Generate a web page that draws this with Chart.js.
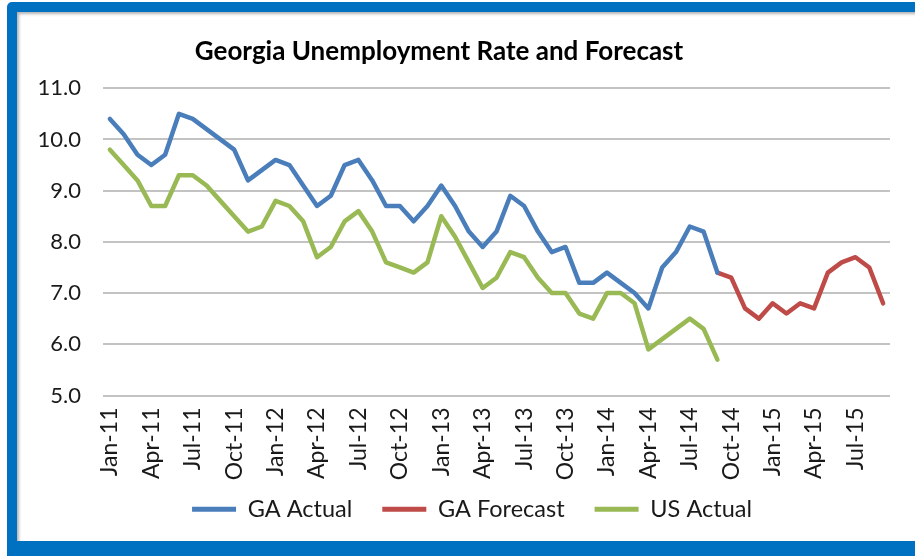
<!DOCTYPE html>
<html>
<head>
<meta charset="utf-8">
<title>Georgia Unemployment Rate and Forecast</title>
<script src="https://cdn.jsdelivr.net/npm/chart.js@4.4.1/dist/chart.umd.min.js"></script>
<style>
  html, body { margin: 0; padding: 0; width: 915px; height: 556px; overflow: hidden; background: #fff; }
  .frame {
    position: absolute; left: 7px; top: 2px;
    width: 1000px; height: 529px;
    border: 10px solid #0070c0; border-bottom-width: 20px; border-radius: 5px;
    box-shadow: inset 2px 2px 3px rgba(0, 0, 0, 0.3);
  }
  .chart-box { position: absolute; left: 0; top: 0; width: 915px; height: 556px; }
</style>
</head>
<body>
<div class="frame"></div>
<div class="chart-box"><canvas id="gaChart"></canvas></div>
<script>
  // Monthly categories, Jan-11 .. Sep-15
  const months = [
    'Jan-11', 'Feb-11', 'Mar-11', 'Apr-11', 'May-11', 'Jun-11', 'Jul-11', 'Aug-11', 'Sep-11', 'Oct-11', 'Nov-11', 'Dec-11',
    'Jan-12', 'Feb-12', 'Mar-12', 'Apr-12', 'May-12', 'Jun-12', 'Jul-12', 'Aug-12', 'Sep-12', 'Oct-12', 'Nov-12', 'Dec-12',
    'Jan-13', 'Feb-13', 'Mar-13', 'Apr-13', 'May-13', 'Jun-13', 'Jul-13', 'Aug-13', 'Sep-13', 'Oct-13', 'Nov-13', 'Dec-13',
    'Jan-14', 'Feb-14', 'Mar-14', 'Apr-14', 'May-14', 'Jun-14', 'Jul-14', 'Aug-14', 'Sep-14', 'Oct-14', 'Nov-14', 'Dec-14',
    'Jan-15', 'Feb-15', 'Mar-15', 'Apr-15', 'May-15', 'Jun-15', 'Jul-15', 'Aug-15', 'Sep-15'
  ];

  // GA actual, Jan-11 .. Sep-14
  const gaActual = [
    10.4, 10.1, 9.7, 9.5, 9.7, 10.5, 10.4, 10.2, 10.0, 9.8, 9.2, 9.4,
    9.6, 9.5, 9.1, 8.7, 8.9, 9.5, 9.6, 9.2, 8.7, 8.7, 8.4, 8.7,
    9.1, 8.7, 8.2, 7.9, 8.2, 8.9, 8.7, 8.2, 7.8, 7.9, 7.2, 7.2,
    7.4, 7.2, 7.0, 6.7, 7.5, 7.8, 8.3, 8.2, 7.4
  ];

  // GA forecast, Sep-14 .. Sep-15
  const forecastStart = 'Sep-14';
  const gaForecast = [7.4, 7.3, 6.7, 6.5, 6.8, 6.6, 6.8, 6.7, 7.4, 7.6, 7.7, 7.5, 6.8];

  // US actual, Jan-11 .. Sep-14
  const usActual = [
    9.8, 9.5, 9.2, 8.7, 8.7, 9.3, 9.3, 9.1, 8.8, 8.5, 8.2, 8.3,
    8.8, 8.7, 8.4, 7.7, 7.9, 8.4, 8.6, 8.2, 7.6, 7.5, 7.4, 7.6,
    8.5, 8.1, 7.6, 7.1, 7.3, 7.8, 7.7, 7.3, 7.0, 7.0, 6.6, 6.5,
    7.0, 7.0, 6.8, 5.9, 6.1, 6.3, 6.5, 6.3, 5.7
  ];

  const yMin = 5, yMax = 11, yStep = 1;

  const fontFamily = "Lato, 'Noto Sans', sans-serif";
  const textColor = '#1a1a1a';

  // pad the forecast so it lines up with the month labels
  const startIdx = months.indexOf(forecastStart);
  const forecastSeries = months.map((m, i) => (i < startIdx ? null : gaForecast[i - startIdx]));

  // title and legend are not centred on the same spot in the original,
  // and the legend overlaps the long rotated labels, so move them a little
  const nudge = {
    id: 'nudge',
    afterLayout(chart, args, opts) {
      const move = (box, dx, dy) => {
        if (!box) return;
        box.left += dx; box.right += dx;
        box.top += dy; box.bottom += dy;
      };
      move(chart.titleBlock, opts.titleX, 0);
      move(chart.legend, opts.legendX, opts.legendY);
    }
  };

  const padLeft = 20;

  const ctx = document.getElementById('gaChart').getContext('2d');
  new Chart(ctx, {
    type: 'line',
    data: {
      labels: months,
      datasets: [
        { label: 'GA Actual', data: gaActual, borderColor: '#4a7ebb', backgroundColor: '#4a7ebb' },
        { label: 'GA Forecast', data: forecastSeries, borderColor: '#be4b48', backgroundColor: '#be4b48' },
        { label: 'US Actual', data: usActual, borderColor: '#98b954', backgroundColor: '#98b954' }
      ]
    },
    options: {
      responsive: true,
      maintainAspectRatio: false,
      animation: false,
      layout: { padding: { left: padLeft, right: 25, top: 0, bottom: 7 } },
      elements: {
        line: { borderWidth: 4.5, tension: 0, fill: false, borderCapStyle: 'round', borderJoinStyle: 'round' },
        point: { radius: 0, hoverRadius: 0 }
      },
      scales: {
        x: {
          offset: true,
          grid: { display: false, drawTicks: false },
          border: { display: false },
          ticks: {
            autoSkip: false,
            minRotation: 90,
            maxRotation: 90,
            padding: 12,
            color: textColor,
            font: { family: fontFamily, size: 23 },
            callback: function (value, index) {
              return index % 3 === 0 ? this.getLabelForValue(value) : '';
            }
          },
          afterFit(scale) {
            scale.height = 90;
            scale.paddingLeft = 0;
            scale.paddingRight = 0;
          }
        },
        y: {
          min: yMin,
          max: yMax,
          grid: { color: '#c3c3c3', lineWidth: 2, drawTicks: false },
          border: { display: false },
          ticks: {
            stepSize: yStep,
            padding: 22,
            color: textColor,
            font: { family: fontFamily, size: 22 },
            callback: v => v.toFixed(1)
          },
          afterFit(scale) {
            scale.width = 103 - padLeft;
          }
        }
      },
      plugins: {
        title: {
          display: true,
          text: 'Georgia Unemployment Rate and Forecast',
          color: '#000',
          font: { family: fontFamily, size: 26, weight: 'bold' },
          padding: { top: 36, bottom: 21 }
        },
        legend: {
          position: 'bottom',
          labels: {
            boxWidth: 44,
            boxHeight: 5,
            padding: 30,
            color: textColor,
            font: { family: fontFamily, size: 23.5 },
            generateLabels: chart =>
              Chart.defaults.plugins.legend.labels.generateLabels(chart).map(item => ({ ...item, lineWidth: 0 }))
          }
        },
        nudge: { titleX: -16, legendX: 17, legendY: -18 },
        tooltip: { enabled: false }
      }
    },
    plugins: [nudge]
  });
</script>
</body>
</html>
